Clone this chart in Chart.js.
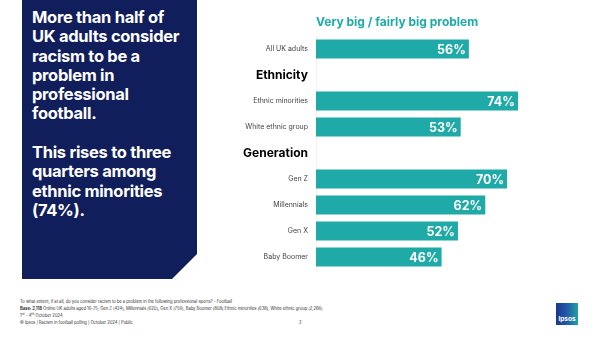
<!DOCTYPE html>
<html>
<head>
<meta charset="utf-8">
<script src="https://cdn.jsdelivr.net/npm/chart.js@4.4.1/dist/chart.umd.min.js"></script>
<style>
  body { margin: 0; width: 602px; height: 338px; background: #fff; overflow: hidden; font-family: Inter, "Noto Sans", sans-serif; }
  #panel {
    position: absolute; left: 22px; top: 0; width: 175px; height: 279px;
    background: #111e5c;
    clip-path: polygon(0 0, 100% 0, 100% 254px, 150px 100%, 0 100%);
  }
  #panel p {
    margin: 0; position: absolute; left: 10px; top: 8px; white-space: nowrap;
    color: #fff; font-weight: 700; font-size: 16.5px; line-height: 19.3px; letter-spacing: -0.3px;
  }
  #wrap { position: absolute; left: 200px; top: 0; width: 402px; height: 285px; }
  .foot { position: absolute; left: 20px; font-size: 4.2px; letter-spacing: -0.05px; color: #333; white-space: nowrap; }
  #logo {
    position: absolute; left: 556px; top: 303px; width: 22px; height: 22px;
    background: linear-gradient(90deg, #1c3590 0%, #2460a8 55%, #1aa5a2 100%);
    color: #fff; font-size: 6.5px; font-weight: 700; text-align: center; line-height: 32px;
  }
</style>
</head>
<body>
<div id="panel"><p>More than half of<br>UK adults consider<br>racism to be a<br>problem in<br>professional<br>football.<br><br>This rises to three<br>quarters among<br>ethnic minorities<br>(74%).</p></div>
<div id="wrap"><canvas id="chart"></canvas></div>
<div class="foot" style="top:299px">To what extent, if at all, do you consider racism to be a problem in the following professional sports? - Football</div>
<div class="foot" style="top:306px"><b>Base: 2,118</b> Online UK adults aged 16-75; Gen Z (424), Millennials (620), Gen X (756), Baby Boomer (808) Ethnic minorities (638), White ethnic group (2,286)</div>
<div class="foot" style="top:312px">1<sup>st</sup> - 4<sup>th</sup> October 2024</div>
<div class="foot" style="top:320px">© Ipsos | Racism in football polling | October 2024 | Public</div>
<div class="foot" style="top:320px; left:299px">2</div>
<div id="logo">Ipsos</div>
<script>
const categories = ['All UK adults', 'Ethnicity', 'Ethnic minorities', 'White ethnic group', 'Generation', 'Gen Z', 'Millennials', 'Gen X', 'Baby Boomer']
const headers = ['Ethnicity', 'Generation']
const values = [56, null, 74, 53, null, 70, 62, 52, 46]
const seriesTitle = 'Very big / fairly big problem'

const teal = '#1faaa8'

const extras = {
  id: 'extras',
  afterDatasetsDraw(chart) {
    const ctx = chart.ctx
    const area = chart.chartArea
    ctx.save()
    ctx.fillStyle = teal
    ctx.font = '700 12px Inter, sans-serif'
    ctx.textAlign = 'left'
    ctx.textBaseline = 'middle'
    ctx.fillText(seriesTitle, area.left, 22)
    const meta = chart.getDatasetMeta(0)
    ctx.fillStyle = '#fff'
    ctx.font = '700 12.5px Inter, sans-serif'
    ctx.textAlign = 'right'
    meta.data.forEach((bar, i) => {
      if (values[i] == null) return
      ctx.fillText(values[i] + '%', bar.x - 3, bar.y + 1)
    })
    ctx.restore()
  }
}

new Chart(document.getElementById('chart'), {
  type: 'bar',
  data: {
    labels: categories,
    datasets: [{
      data: values,
      backgroundColor: teal,
      barPercentage: 0.74,
      categoryPercentage: 1
    }]
  },
  options: {
    indexAxis: 'y',
    responsive: true,
    maintainAspectRatio: false,
    animation: false,
    layout: { padding: { top: 36, bottom: 15, right: 13, left: 0 } },
    plugins: { legend: { display: false }, tooltip: { enabled: false } },
    scales: {
      x: { display: false, min: 0, max: 100 },
      y: {
        afterFit: scale => { scale.width = 116 },
        grid: { display: false, drawTicks: false },
        border: { color: '#f2f2f2' },
        ticks: {
          padding: 8,
          color: ctx => headers.includes(categories[ctx.index]) ? '#000' : '#444',
          font: ctx => headers.includes(categories[ctx.index])
            ? { family: 'Inter, sans-serif', size: 12, weight: '700' }
            : { family: 'Inter, sans-serif', size: 7 }
        }
      }
    }
  },
  plugins: [extras]
})
</script>
</body>
</html>
